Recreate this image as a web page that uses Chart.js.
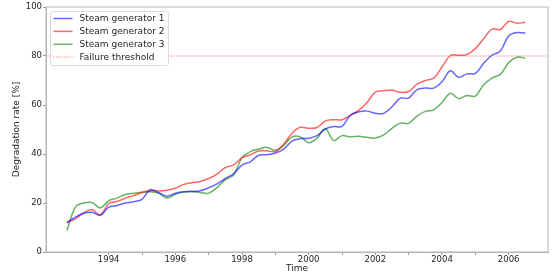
<!DOCTYPE html>
<html>
<head>
<meta charset="utf-8">
<script src="https://cdn.jsdelivr.net/npm/chart.js@4/dist/chart.umd.min.js"></script>
<style>
  html, body { margin: 0; padding: 0; background: #fff; }
  #wrap { width: 553px; height: 278px; }
</style>
</head>
<body>
<div id="wrap"><canvas id="chart" width="553" height="278"></canvas></div>
<script>
// quarterly time points (decimal years)
const times = [
  1992.75, 1993.0, 1993.25, 1993.5, 1993.75, 1994.0, 1994.25, 1994.5, 1994.75,
  1995.0, 1995.25, 1995.5, 1995.75, 1996.0, 1996.25, 1996.5, 1996.75,
  1997.0, 1997.25, 1997.5, 1997.75, 1998.0, 1998.25, 1998.5, 1998.75,
  1999.0, 1999.25, 1999.5, 1999.75, 2000.0, 2000.25, 2000.5, 2000.75,
  2001.0, 2001.25, 2001.5, 2001.75, 2002.0, 2002.25, 2002.5, 2002.75,
  2003.0, 2003.25, 2003.5, 2003.75, 2004.0, 2004.25, 2004.5, 2004.75,
  2005.0, 2005.25, 2005.5, 2005.75, 2006.0, 2006.25, 2006.5
];

const sg1 = [
  12.0, 14.2, 15.8, 16.2, 15.0, 18.3, 19.0, 20.0, 20.5,
  21.5, 25.5, 24.2, 22.8, 24.0, 24.6, 24.7, 25.0,
  26.2, 27.8, 30.0, 32.0, 35.5, 36.8, 39.5, 39.7,
  40.4, 42.0, 45.3, 46.3, 46.4, 47.5, 50.2, 51.2,
  51.3, 55.8, 57.2, 57.5, 56.6, 56.6, 59.3, 62.8,
  62.8, 66.3, 66.9, 66.9, 69.5, 74.0, 71.3, 72.7,
  72.9, 77.0, 80.3, 82.0, 88.2, 89.6, 89.3
];

const sg2 = [
  12.0, 13.5, 16.0, 17.3, 15.2, 19.8, 20.6, 22.0, 23.0,
  24.3, 25.0, 24.9, 25.2, 26.0, 27.6, 28.3, 28.8,
  30.0, 31.8, 34.5, 35.6, 38.5, 39.7, 41.2, 41.3,
  41.0, 44.0, 48.5, 50.9, 50.5, 50.8, 53.5, 54.0,
  54.0, 55.8, 57.8, 61.0, 65.3, 65.8, 66.0, 65.2,
  65.5, 68.5, 70.0, 71.0, 75.5, 80.2, 80.3, 80.6,
  83.0, 87.0, 91.0, 90.8, 94.1, 93.4, 93.8
];

const sg3 = [
  8.8, 18.3, 20.0, 20.2, 18.0, 20.9, 22.0, 23.5, 24.0,
  24.4, 24.6, 24.0, 22.0, 23.6, 24.5, 24.7, 24.3,
  24.0, 26.3, 29.5, 31.4, 38.5, 41.0, 42.0, 42.7,
  41.5, 43.5, 47.0, 47.0, 44.6, 46.5, 50.3, 45.5,
  47.5, 47.0, 47.2, 46.8, 46.5, 47.8, 50.5, 52.6,
  52.5, 55.5, 57.4, 58.0, 61.0, 64.8, 62.6, 63.9,
  63.6, 68.3, 71.0, 72.5, 77.3, 79.5, 79.1
];

const threshold = 80;
const xMin = 1992.12;
const xMax = 2007.18;
const yTicks = [0, 20, 40, 60, 80, 100];

const pts = vals => vals.map((v, i) => ({ x: times[i], y: v }));

// frame round the plot area (matplotlib-like spines)
const framePlugin = {
  id: "frame",
  afterDatasetsDraw(chart) {
    const { ctx, chartArea: a } = chart;
    ctx.save();
    ctx.strokeStyle = "#b5b5b5";
    ctx.lineWidth = 1;
    ctx.strokeRect(a.left, a.top, a.right - a.left, a.bottom - a.top);
    ctx.restore();
  }
};

// legend drawn inside the plot, upper left
const insideLegend = {
  id: "insideLegend",
  afterDraw(chart) {
    const { ctx, chartArea: a } = chart;
    const x0 = a.left + 4.5, y0 = a.top + 4.5;
    const w = 118, h = 54, rowH = 12.9;
    ctx.save();
    ctx.beginPath();
    ctx.roundRect(x0, y0, w, h, 2.5);
    ctx.fillStyle = "rgba(255,255,255,0.85)";
    ctx.fill();
    ctx.strokeStyle = "#dcdcdc";
    ctx.lineWidth = 1;
    ctx.stroke();
    ctx.font = '9px "DejaVu Sans"';
    ctx.textBaseline = "middle";
    chart.data.datasets.forEach((ds, i) => {
      const y = y0 + 7 + i * rowH;
      ctx.beginPath();
      ctx.setLineDash(ds.borderDash || []);
      ctx.strokeStyle = ds.borderColor;
      ctx.lineWidth = ds.borderWidth;
      ctx.moveTo(x0 + 3, y);
      ctx.lineTo(x0 + 22, y);
      ctx.stroke();
      ctx.setLineDash([]);
      ctx.fillStyle = "#262626";
      ctx.fillText(ds.label, x0 + 29, y);
    });
    ctx.restore();
  }
};

new Chart(document.getElementById("chart"), {
  type: "line",
  data: {
    datasets: [
      { label: "Steam generator 1", data: pts(sg1), borderColor: "rgba(0,0,255,0.6)", borderWidth: 1.5 },
      { label: "Steam generator 2", data: pts(sg2), borderColor: "rgba(255,0,0,0.6)", borderWidth: 1.5 },
      { label: "Steam generator 3", data: pts(sg3), borderColor: "rgba(0,128,0,0.6)", borderWidth: 1.5 },
      {
        label: "Failure threshold",
        data: [{ x: xMin, y: threshold }, { x: xMax, y: threshold }],
        borderColor: "rgba(255,0,0,0.35)",
        borderWidth: 1.3,
        borderDash: [1.3, 1.3],
        tension: 0
      }
    ]
  },
  options: {
    responsive: false,
    animation: false,
    events: [],
    layout: { padding: { top: 7, right: 5, left: 0, bottom: 0 } },
    elements: {
      point: { radius: 0 },
      line: { tension: 0.35, fill: false }
    },
    plugins: {
      legend: { display: false },
      tooltip: { enabled: false }
    },
    scales: {
      x: {
        type: "linear",
        min: xMin,
        max: xMax,
        afterBuildTicks: s => { s.ticks = s.ticks.filter(t => Number.isInteger(t.value)); },
        afterFit: s => { s.height = 26; },
        ticks: {
          stepSize: 1,
          autoSkip: false,
          maxRotation: 0,
          padding: 0,
          color: "#262626",
          font: { family: "DejaVu Sans", size: 8.5 },
          callback: v => (v % 2 === 0 ? String(v) : "")
        },
        grid: { drawOnChartArea: false, color: "#999", tickLength: 3 },
        border: { color: "#b5b5b5" },
        title: {
          display: true,
          text: "Time",
          color: "#262626",
          font: { family: "DejaVu Sans", size: 9 },
          padding: { top: 0, bottom: 3.5 }
        }
      },
      y: {
        min: 0,
        max: 100,
        afterBuildTicks: s => { s.ticks = yTicks.map(v => ({ value: v })); },
        afterFit: s => { s.width = 46; },
        ticks: {
          padding: 1,
          color: "#262626",
          font: { family: "DejaVu Sans", size: 8.5 }
        },
        grid: { drawOnChartArea: false, color: "#999", tickLength: 3 },
        border: { color: "#b5b5b5" },
        title: {
          display: true,
          text: "Degradation rate [%]",
          color: "#262626",
          font: { family: "DejaVu Sans", size: 9 },
          padding: { top: 11, bottom: 0 }
        }
      }
    }
  },
  plugins: [framePlugin, insideLegend]
});
</script>
</body>
</html>
